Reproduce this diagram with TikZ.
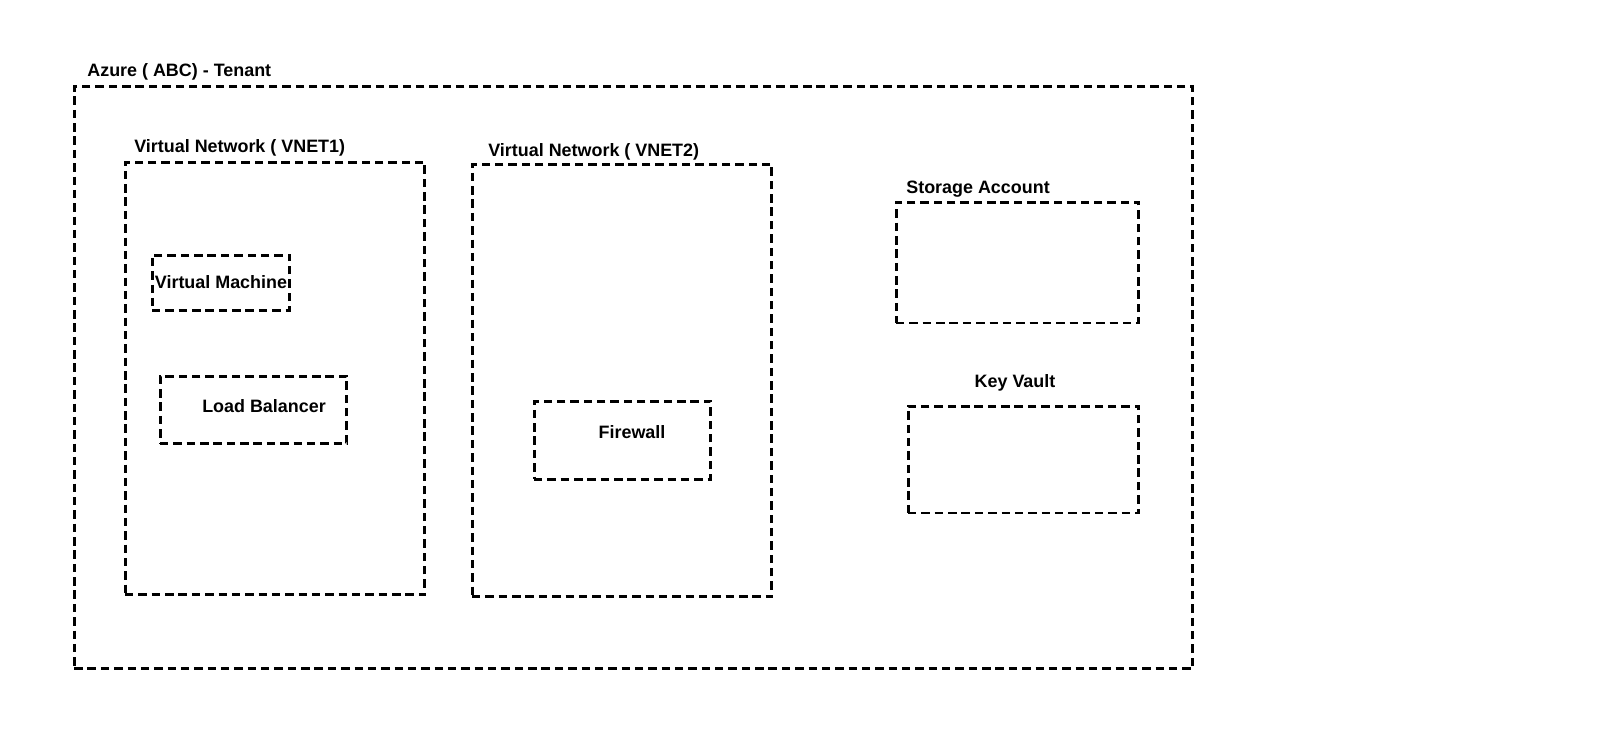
\documentclass[tikz,border=0pt]{standalone}
\usepackage{fontspec}
\setmainfont{Liberation Sans}
\usepackage{tikz}
\usetikzlibrary{positioning}

\begin{document}
\begin{tikzpicture}[x=0.02cm,y=-0.02cm,
    dbox/.style={draw,line width=1.7pt,dash pattern=on 4.8pt off 2.8pt,inner sep=0pt},
    lbl/.style={font=\fontsize{10.2}{12}\selectfont\bfseries,inner sep=0pt}]
    \useasboundingbox (0,0) rectangle (1602,752);

    % Tenant
    \node[dbox,minimum width=22.38cm,minimum height=11.66cm] (tenant) at (633.5,377.5) {};
    \node[lbl,anchor=base west] (tenantlbl) at (87,76.5) {Azure ( ABC) - Tenant};

    % VNET1
    \node[dbox,minimum width=6cm,minimum height=8.66cm] (vnet1) at (275,378.5) {};
    \node[lbl,anchor=base west] (vnet1lbl) at (134,152.5) {Virtual Network ( VNET1)};
    \node[dbox,lbl,minimum width=2.76cm,minimum height=1.1cm] (vm) at (221,282.5) {Virtual Machine};
    \node[dbox,minimum width=3.74cm,minimum height=1.34cm] (lb) at (253.5,409.5) {};
    \node[lbl,anchor=base] (lblb) at (264,412) {Load Balancer};

    % VNET2
    \node[dbox,minimum width=6cm,minimum height=8.66cm] (vnet2) at (622,380.5) {};
    \node[lbl,anchor=base west] (vnet2lbl) at (488,156.5) {Virtual Network ( VNET2)};
    \node[dbox,minimum width=3.54cm,minimum height=1.56cm] (fw) at (622.5,440) {};
    \node[lbl,anchor=base] (fwlbl) at (632,438) {Firewall};

    % Storage and Key Vault
    \node[dbox,minimum width=4.86cm,minimum height=2.42cm] (storage) at (1017.5,262.5) {};
    \node[lbl,anchor=base west] (storagelbl) at (906,193) {Storage Account};
    \node[dbox,minimum width=4.62cm,minimum height=2.14cm] (kv) at (1023.5,459.5) {};
    \node[lbl,anchor=base] (kvlbl) at (1015,387) {Key Vault};
\end{tikzpicture}
\end{document}
